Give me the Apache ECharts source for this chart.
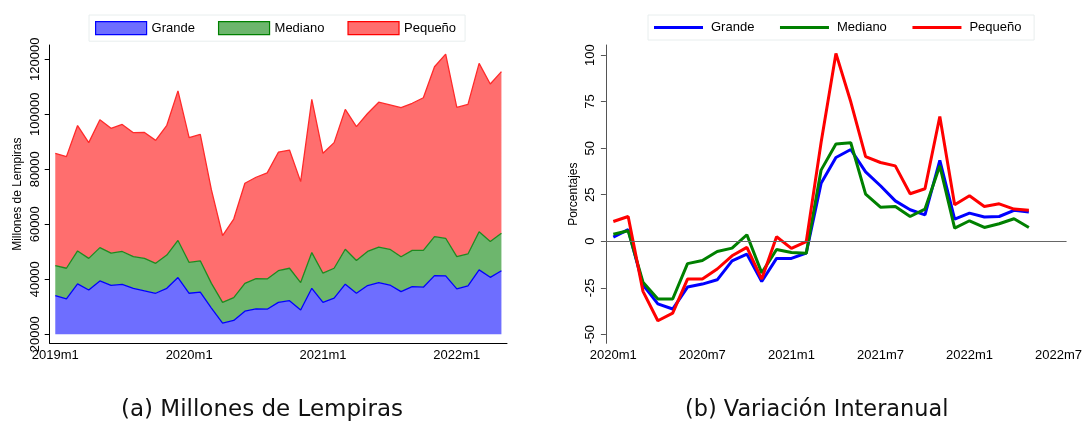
<!DOCTYPE html>
<html>
<head>
<meta charset="utf-8">
<script src="https://cdn.jsdelivr.net/npm/echarts@6/dist/echarts.min.js"></script>
<style>
  body { margin: 0; background: #fff; }
  #chart { width: 1085px; height: 429px; }
</style>
</head>
<body>
<div id="chart"></div>
<script>
  // monthly labels like 2019m1
  function monthLabels(y0, n) {
    var out = [];
    for (var i = 0; i < n; i++) {
      out.push((y0 + Math.floor(i / 12)) + 'm' + (i % 12 + 1));
    }
    return out;
  }
  var monthsA = monthLabels(2019, 41);   // 2019m1 .. 2022m5
  var monthsB = monthLabels(2020, 31);   // 2020m1 .. 2022m7

  var seriesNames = ['Grande', 'Mediano', 'Pequeño'];

  // (a) millones de lempiras, apilado
  var grandeMill = [34060, 32850, 38300, 36100, 39400, 37800, 38100, 36700, 35800, 34900, 36700, 40600,
    34900, 35300, 29500, 24000, 25000, 28400, 29200, 29100, 31600, 32200, 28800, 36700,
    31600, 33100, 38200, 34900, 37700, 38800, 37900, 35500, 37300, 37100, 41300, 41200,
    36500, 37600, 43400, 40700, 43100];
  var medianoMill = [10900, 11150, 12000, 11500, 12100, 11700, 12000, 11500, 11800, 10900, 12100, 13500,
    11200, 11400, 9000, 7600, 8300, 10100, 11000, 11000, 11500, 11800, 10000, 13000,
    10600, 10900, 12700, 11900, 12400, 12900, 13000, 12700, 13200, 13400, 14200, 13700,
    11700, 11600, 13900, 13000, 13600];
  var pequenoMill = [40800, 40600, 45600, 42100, 46500, 45400, 46200, 45100, 45800, 44700, 47200, 54400,
    45400, 46000, 34000, 24300, 28600, 36400, 36900, 38600, 43100, 43000, 36700, 55700,
    43600, 45700, 50900, 48700, 50200, 52700, 52500, 54200, 53500, 55500, 61800, 67000,
    54300, 54400, 61200, 57300, 58800];

  // (b) variacion interanual, %
  var grandeVar = [2.2, 6.2, -23.4, -33.6, -36.4, -24.6, -23, -20.7, -10.5, -6.9, -21.6, -9.2,
    -9.2, -6.3, 31.1, 45, 49.3, 37.3, 29.8, 21.7, 16.9, 14.2, 43.4, 11.9,
    15.1, 13, 13.3, 16.6, 15.7];
  var medianoVar = [3.8, 5.6, -22, -31, -31, -12, -10.3, -5.5, -3.7, 3.5, -17, -4.4,
    -6, -6.5, 38.2, 52.2, 52.9, 25.3, 18.3, 18.7, 13.3, 17.3, 40.5, 7.1,
    11, 7.4, 9.4, 12.1, 7.4];
  var pequenoVar = [10.6, 13.3, -26.9, -42.7, -38.6, -20.3, -20.3, -14.9, -7.8, -3.3, -20.3, 2.4,
    -3.8, -0.2, 53, 100.9, 74.9, 45.4, 42.3, 40.5, 25.5, 28.2, 67, 19.6,
    24.4, 18.7, 20.1, 17.3, 16.6];

  var ticksA = [20000, 40000, 60000, 80000, 100000, 120000];
  var ticksB = [-50, -25, 0, 25, 50, 75, 100];

  var lineColors = ['#0000ff', '#008000', '#ff0000'];
  var areaColors = ['#6e6eff', '#6db66d', '#ff6e6e'];
  var font = 'Liberation Sans, Arial, sans-serif';

  var chart = echarts.init(document.getElementById('chart'));

  var everyN = function (n) {
    return function (idx) { return idx % n === 0; };
  };
  var plain = function (v) { return String(v); };

  var option = {
    backgroundColor: '#fff',
    animation: false,
    textStyle: { fontFamily: font, color: '#000' },
    grid: [
      { left: 49.7, width: 457.3, top: 45, bottom: 85.7 },
      { left: 605.9, width: 461.9, top: 45, bottom: 85.7 }
    ],
    legend: [
      {
        left: 89, top: 15,
        padding: [6, 9, 6, 6],
        itemWidth: 51, itemHeight: 13, itemGap: 23,
        borderColor: '#e8eeee', borderWidth: 1,
        textStyle: { fontSize: 13, fontFamily: font, color: '#000' },
        data: seriesNames.map(function (n, i) {
          return { name: n, icon: 'rect',
            itemStyle: { color: areaColors[i], borderColor: lineColors[i], borderWidth: 1.2 } };
        })
      },
      {
        left: 648, top: 15,
        padding: [6, 9, 6, 6],
        itemWidth: 49, itemHeight: 3, itemGap: 22,
        borderColor: '#e8eeee', borderWidth: 1,
        textStyle: { fontSize: 13, fontFamily: font, color: '#000', lineHeight: 13, padding: [0, 0, 0, 3] },
        data: seriesNames.map(function (n, i) {
          return { name: n + ' ', icon: 'rect', itemStyle: { color: lineColors[i] } };
        })
      }
    ],
    xAxis: [
      {
        gridIndex: 0, type: 'category', data: monthsA, boundaryGap: true,
        axisLine: { lineStyle: { color: '#000', width: 1 } },
        axisTick: { alignWithLabel: true, interval: everyN(12), length: 5, lineStyle: { color: '#000' } },
        axisLabel: { interval: everyN(12), margin: 6, fontSize: 13, color: '#000' }
      },
      {
        gridIndex: 1, type: 'category', data: monthsB, boundaryGap: true,
        axisLine: { lineStyle: { color: '#000', width: 1 } },
        axisTick: { alignWithLabel: true, interval: everyN(6), length: 5, lineStyle: { color: '#000' } },
        axisLabel: { interval: everyN(6), margin: 6, fontSize: 13, color: '#000' }
      }
    ],
    yAxis: [
      {
        gridIndex: 0, type: 'value', min: 16700, max: 125200,
        name: 'Millones de Lempiras', nameLocation: 'middle', nameGap: 26,
        nameTextStyle: { fontSize: 12, color: '#000' },
        axisLine: { show: true, lineStyle: { color: '#000' } },
        axisTick: { show: true, length: 5, customValues: ticksA, lineStyle: { color: '#000' } },
        axisLabel: { rotate: 90, margin: 8, fontSize: 13, color: '#000', customValues: ticksA, formatter: plain },
        splitLine: { show: false }
      },
      {
        gridIndex: 1, type: 'value', min: -54.8, max: 105.4,
        name: 'Porcentajes', nameLocation: 'middle', nameGap: 26,
        nameTextStyle: { fontSize: 12, color: '#000' },
        axisLine: { show: true, lineStyle: { color: '#555' } },
        axisTick: { show: true, length: 5, customValues: ticksB, lineStyle: { color: '#555' } },
        axisLabel: { rotate: 90, margin: 9, fontSize: 13, color: '#000', customValues: ticksB, formatter: plain },
        splitLine: { show: false }
      }
    ],
    series: [
      {
        name: 'Grande', type: 'line', stack: 'a', xAxisIndex: 0, yAxisIndex: 0,
        data: grandeMill, symbol: 'none', color: lineColors[0],
        lineStyle: { width: 1.3, color: lineColors[0] },
        areaStyle: { color: areaColors[0], opacity: 1, origin: 20000 }
      },
      {
        name: 'Mediano', type: 'line', stack: 'a', xAxisIndex: 0, yAxisIndex: 0,
        data: medianoMill, symbol: 'none', color: lineColors[1],
        lineStyle: { width: 1.3, color: '#1f8a1f' },
        areaStyle: { color: areaColors[1], opacity: 1 }
      },
      {
        name: 'Pequeño', type: 'line', stack: 'a', xAxisIndex: 0, yAxisIndex: 0,
        data: pequenoMill, symbol: 'none', color: lineColors[2],
        lineStyle: { width: 1.3, color: '#ff2a2a' },
        areaStyle: { color: areaColors[2], opacity: 1 }
      },
      {
        name: 'Grande ', type: 'line', xAxisIndex: 1, yAxisIndex: 1,
        data: grandeVar, symbol: 'none', color: lineColors[0],
        lineStyle: { width: 3, color: lineColors[0] },
        markLine: {
          silent: true, symbol: 'none', label: { show: false },
          lineStyle: { color: '#666', width: 1, type: 'solid' },
          data: [{ yAxis: 0 }]
        }
      },
      {
        name: 'Mediano ', type: 'line', xAxisIndex: 1, yAxisIndex: 1,
        data: medianoVar, symbol: 'none', color: lineColors[1],
        lineStyle: { width: 3, color: lineColors[1] }
      },
      {
        name: 'Pequeño ', type: 'line', xAxisIndex: 1, yAxisIndex: 1,
        data: pequenoVar, symbol: 'none', color: lineColors[2],
        lineStyle: { width: 3, color: lineColors[2] }
      }
    ],
    graphic: [
      { type: 'text', left: 121, top: 399,
        style: { text: '(a) Millones de Lempiras', font: '23px "DejaVu Sans", sans-serif', fill: '#111' } },
      { type: 'text', left: 685, top: 399,
        style: { text: '(b) Variación Interanual', font: '22.4px "DejaVu Sans", sans-serif', fill: '#111' } }
    ]
  };

  chart.setOption(option, true);
</script>
</body>
</html>
